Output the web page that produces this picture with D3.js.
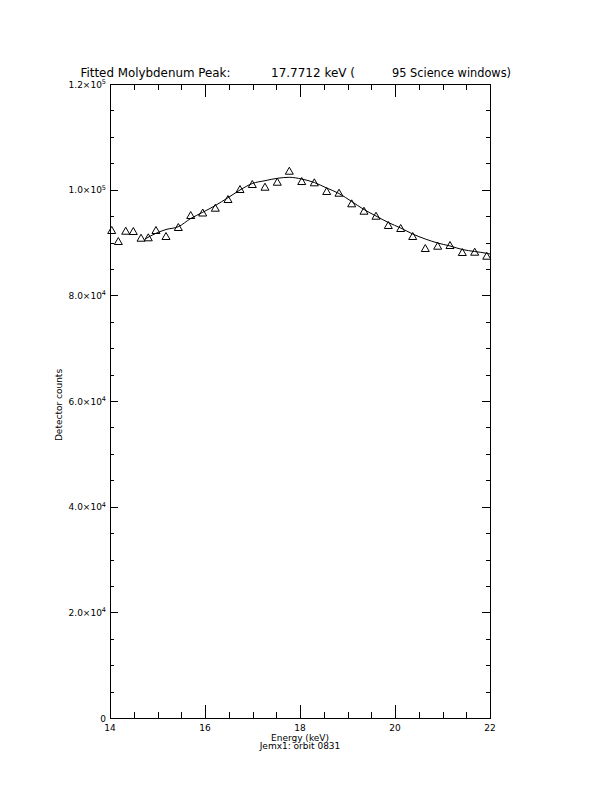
<!DOCTYPE html>
<html>
<head>
<meta charset="utf-8">
<script src="https://cdn.jsdelivr.net/npm/d3@7"></script>
<style>
  html, body { margin: 0; padding: 0; background: #fff; }
  svg { display: block; }
  text { font-family: "DejaVu Sans", "Liberation Sans", Arial, sans-serif; fill: #000; }
</style>
</head>
<body>
<script>
// ---- data ----
const energy = [14.036, 14.175, 14.331, 14.491, 14.653, 14.806, 14.968, 15.179, 15.438, 15.699,
  15.952, 16.217, 16.484, 16.737, 16.996, 17.263, 17.522, 17.775, 18.036, 18.301,
  18.562, 18.821, 19.088, 19.347, 19.600, 19.859, 20.120, 20.373, 20.638, 20.899,
  21.158, 21.417, 21.678, 21.931];
const counts = [92364, 90282, 92232, 92175, 90906, 90982, 92364, 91228, 92932, 95203,
  95676, 96585, 98231, 100124, 101070, 100559, 101504, 103588, 101637, 101391,
  99745, 99423, 97417, 96017, 95070, 93310, 92742, 91228, 88957, 89392,
  89525, 88200, 88257, 87500];
const fitEnergy = [14.737, 14.968, 15.179, 15.438, 15.699, 15.952, 16.217, 16.484, 16.737, 16.996,
  17.263, 17.522, 17.775, 18.036, 18.301, 18.562, 18.821, 19.088, 19.347, 19.600,
  19.859, 20.120, 20.373, 20.638, 20.899, 21.158, 21.417, 21.678, 21.931, 22.0];
const fitCounts = [90660, 91739, 92458, 92988, 94540, 95714, 97001, 98477, 99935, 101165,
  101695, 102149, 102339, 102017, 101354, 100313, 99272, 97758, 96244, 95014,
  93783, 92742, 91607, 90660, 89903, 89344, 88673, 88295, 87954, 87821];
const xTickValues = [14, 16, 18, 20, 22];
const xTickLabels = ["14", "16", "18", "20", "22"];
const yTickValues = [0, 20000, 40000, 60000, 80000, 100000, 120000];
const yTickMantissa = ["0", "2.0", "4.0", "6.0", "8.0", "1.0", "1.2"];
const yTickExponent = ["", "4", "4", "4", "4", "5", "5"];
const titleParts = ["Fitted Molybdenum Peak:", "17.7712 keV (", "95 Science windows)"];
const xTitle = "Energy (keV)";
const subTitle = "Jemx1: orbit 0831";
const yTitle = "Detector counts";

// ---- layout ----
const W = 612, H = 792;
const L = 110, R = 490, T = 84, B = 718;

const svg = d3.select("body").append("svg").attr("width", W).attr("height", H);

const x = d3.scaleLinear().domain([14, 22]).range([L, R]);
const y = d3.scaleLinear().domain([0, 120000]).range([B, T]);

const majLenX = 12.7, minLenX = 6.3, majLenY = 7.6, minLenY = 3.8;
const xMinor = d3.range(14, 22.001, 0.5).filter(v => Math.abs(v % 2) > 1e-6);
const yMinor = d3.range(0, 120001, 5000).filter(v => v % 20000 !== 0);

function styleAxis(g) {
  g.selectAll("path, line").attr("stroke", "#000").attr("stroke-width", 1).attr("shape-rendering", "crispEdges");
  g.selectAll("text").remove();
}

// bottom
svg.append("g").attr("transform", `translate(0,${B})`)
  .call(d3.axisBottom(x).tickValues(xTickValues).tickSizeInner(-majLenX).tickSizeOuter(0).tickFormat(""))
  .call(styleAxis);
svg.append("g").attr("transform", `translate(0,${B})`)
  .call(d3.axisBottom(x).tickValues(xMinor).tickSizeInner(-minLenX).tickSizeOuter(0).tickFormat(""))
  .call(styleAxis);
// top
svg.append("g").attr("transform", `translate(0,${T})`)
  .call(d3.axisTop(x).tickValues(xTickValues).tickSizeInner(-majLenX).tickSizeOuter(0).tickFormat(""))
  .call(styleAxis);
svg.append("g").attr("transform", `translate(0,${T})`)
  .call(d3.axisTop(x).tickValues(xMinor).tickSizeInner(-minLenX).tickSizeOuter(0).tickFormat(""))
  .call(styleAxis);
// left
svg.append("g").attr("transform", `translate(${L},0)`)
  .call(d3.axisLeft(y).tickValues(yTickValues).tickSizeInner(-majLenY).tickSizeOuter(0).tickFormat(""))
  .call(styleAxis);
svg.append("g").attr("transform", `translate(${L},0)`)
  .call(d3.axisLeft(y).tickValues(yMinor).tickSizeInner(-minLenY).tickSizeOuter(0).tickFormat(""))
  .call(styleAxis);
// right
svg.append("g").attr("transform", `translate(${R},0)`)
  .call(d3.axisRight(y).tickValues(yTickValues).tickSizeInner(-majLenY).tickSizeOuter(0).tickFormat(""))
  .call(styleAxis);
svg.append("g").attr("transform", `translate(${R},0)`)
  .call(d3.axisRight(y).tickValues(yMinor).tickSizeInner(-minLenY).tickSizeOuter(0).tickFormat(""))
  .call(styleAxis);

// x tick labels
svg.append("g").selectAll("text").data(xTickValues).join("text")
  .attr("x", d => x(d)).attr("y", B + 13)
  .attr("text-anchor", "middle").attr("font-size", 9)
  .text((d, i) => xTickLabels[i]);

// y tick labels
const yl = svg.append("g").selectAll("text").data(yTickValues).join("text")
  .attr("x", L - 4).attr("y", d => y(d) + 3.5)
  .attr("text-anchor", "end").attr("font-size", 9);
yl.each(function(d, i) {
  const t = d3.select(this);
  if (yTickExponent[i] === "") { t.text(yTickMantissa[i]); return; }
  t.append("tspan").text(yTickMantissa[i] + "\u00d710");
  t.append("tspan").attr("dy", -3.5).attr("font-size", 6.5).text(yTickExponent[i]);
});

// titles
const titleX = [80.5, 271, 392];
const titleW = [150, 84, 119];
svg.append("g").selectAll("text").data(titleParts).join("text")
  .attr("x", (d, i) => titleX[i]).attr("y", 76.5)
  .attr("font-size", 12)
  .attr("textLength", (d, i) => titleW[i]).attr("lengthAdjust", "spacingAndGlyphs")
  .text(d => d);

svg.append("text").attr("x", (L + R) / 2).attr("y", 740.5)
  .attr("text-anchor", "middle").attr("font-size", 9).text(xTitle);
svg.append("text").attr("x", (L + R) / 2).attr("y", 749)
  .attr("text-anchor", "middle").attr("font-size", 9).text(subTitle);
svg.append("text")
  .attr("transform", `translate(61.5,405) rotate(-90)`)
  .attr("text-anchor", "middle").attr("font-size", 9).text(yTitle);

// fit curve
const line = d3.line().x(d => x(d[0])).y(d => y(d[1])).curve(d3.curveMonotoneX);
svg.append("path")
  .datum(fitEnergy.map((e, i) => [e, fitCounts[i]]))
  .attr("d", line).attr("fill", "none").attr("stroke", "#000").attr("stroke-width", 1);

// data triangles
const tri = "M0,-3.5L4,3.5L-4,3.5Z";
svg.append("g").selectAll("path").data(energy).join("path")
  .attr("transform", (d, i) => `translate(${x(d)},${y(counts[i])})`)
  .attr("d", tri).attr("fill", "none").attr("stroke", "#000").attr("stroke-width", 1);
</script>
</body>
</html>
